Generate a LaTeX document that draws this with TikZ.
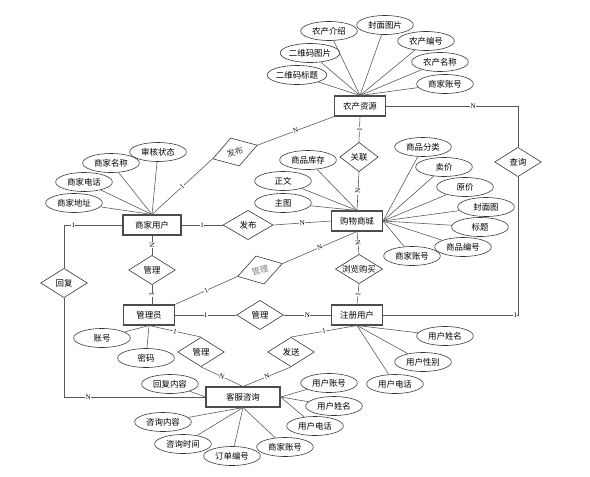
\documentclass[tikz,border=0pt]{standalone}
\usepackage{fontspec}
\setmainfont{Noto Sans CJK SC}
\newfontfamily\cardfont{Liberation Serif}
\usepackage{tikz}
\usetikzlibrary{shapes.geometric, positioning}

\tikzset{
  entity/.style={rectangle, draw=black!70, line width=0.9pt, minimum width=1.53cm, minimum height=0.6cm, inner sep=1pt, fill=white, font=\fontsize{7.2}{8}\selectfont},
  attr/.style={ellipse, draw=black!80, line width=0.5pt, minimum width=1.7cm, minimum height=0.57cm, inner sep=0pt, fill=white, font=\fontsize{7.2}{8}\selectfont},
  rel/.style={diamond, draw=black!80, line width=0.5pt, aspect=1.75, minimum width=1.4cm, minimum height=0.88cm, inner sep=0pt, fill=white, font=\fontsize{7.2}{8}\selectfont},
  card/.style={font=\cardfont\fontsize{6}{6}\selectfont, fill=white, inner sep=0.3pt, sloped},
  link/.style={draw=black!65, line width=0.5pt},
}

\begin{document}
\begin{tikzpicture}[x=0.03cm, y=-0.03cm]
  \useasboundingbox (0,0) rectangle (590,476);

  \node[entity] (nzzy) at (360,106) {农产资源};
  \node[entity, minimum width=1.74cm] (sjyh) at (152,225) {商家用户};
  \node[entity] (gwsc) at (357,221) {购物商城};
  \node[entity] (gly) at (149,315) {管理员};
  \node[entity] (zcyh) at (357,315) {注册用户};
  \node[entity, minimum width=2.22cm] (kfzx) at (243,397) {客服咨询};

  \node[rel, rotate=17, text=black!75] (fb1) at (235,152) {发布};
  \node[rel, minimum width=1.15cm] (gl1) at (359,157) {关联};
  \node[rel, minimum width=1.5cm] (fb2) at (248,225) {发布};
  \node[rel] (gl2) at (152,270) {管理};
  \node[rel, rotate=16, text=gray] (gl3) at (260,270) {管理};
  \node[rel] (llgm) at (359,269) {浏览购买};
  \node[rel] (gl4) at (260,315) {管理};
  \node[rel] (gl5) at (201,352) {管理};
  \node[rel] (fs) at (291,352) {发送};
  \node[rel] (cx) at (518,162) {查询};
  \node[rel] (hf) at (64,283) {回复};

  \node[attr] (nzjs) at (329,31) {农产介绍};
  \node[attr] (fmtp) at (385,25) {封面图片};
  \node[attr] (nzbh) at (426,41) {农产编号};
  \node[attr] (nzmc) at (440,62) {农产名称};
  \node[attr] (nzsj) at (445,84) {商家账号};
  \node[attr] (ewtp) at (310,53) {二维码图片};
  \node[attr] (ewbt) at (297,75) {二维码标题};

  \node[attr] (shzt) at (158,152) {审核状态};
  \node[attr] (sjmc) at (111,163) {商家名称};
  \node[attr] (sjdh) at (84,182) {商家电话};
  \node[attr] (sjdz) at (74,203) {商家地址};

  \node[attr] (spkc) at (308,160) {商品库存};
  \node[attr] (zw) at (283,181) {正文};
  \node[attr] (zt) at (283,203) {主图};
  \node[attr] (spfl) at (423,147) {商品分类};
  \node[attr] (mj) at (444,167) {卖价};
  \node[attr] (yj) at (465,187) {原价};
  \node[attr] (fmt) at (486,207) {封面图};
  \node[attr] (bt) at (480,227) {标题};
  \node[attr] (spbh) at (463,247) {商品编号};
  \node[attr] (gwsj) at (412,256) {商家账号};

  \node[attr] (zh) at (102,338) {账号};
  \node[attr] (mm) at (146,358) {密码};

  \node[attr] (yhxm) at (445,336) {用户姓名};
  \node[attr] (yhxb) at (423,362) {用户性别};
  \node[attr] (yhdh) at (395,384) {用户电话};

  \node[attr] (hfnr) at (170,384) {回复内容};
  \node[attr] (kfzh) at (329,383) {用户账号};
  \node[attr] (kfxm) at (334,406) {用户姓名};
  \node[attr] (kfdh) at (315,426) {用户电话};
  \node[attr] (zxnr) at (163,422) {咨询内容};
  \node[attr] (zxsj) at (183,444) {咨询时间};
  \node[attr] (ddbh) at (232,456) {订单编号};
  \node[attr] (kfsj) at (285,447) {商家账号};

  \draw[link] (nzzy.north) -- (nzjs);
  \draw[link] (nzzy.north) -- (fmtp);
  \draw[link] (nzzy.north) -- (nzbh);
  \draw[link] (nzzy.north) -- (nzmc);
  \draw[link] (nzzy.north) -- (nzsj);
  \draw[link] (nzzy.north) -- (ewtp);
  \draw[link] (nzzy.north) -- (ewbt);

  \draw[link] (sjyh.north) -- (shzt);
  \draw[link] (sjyh.north) -- (sjmc);
  \draw[link] (sjyh.north) -- (sjdh);
  \draw[link] (sjyh.north) -- (sjdz);

  \draw[link] (gwsc.north) -- (spkc);
  \draw[link] (gwsc.north) -- (zw);
  \draw[link] (gwsc.north) -- (zt);
  \draw[link] (gwsc.east) -- (spfl);
  \draw[link] (gwsc.east) -- (mj);
  \draw[link] (gwsc.east) -- (yj);
  \draw[link] (gwsc.east) -- (fmt);
  \draw[link] (gwsc.east) -- (bt);
  \draw[link] (gwsc.east) -- (spbh);
  \draw[link] (gwsc.east) -- (gwsj);

  \draw[link] (gly.south) -- (zh);
  \draw[link] (gly.south) -- (mm);

  \draw[link] (zcyh.south) -- (yhxm);
  \draw[link] (zcyh.south) -- (yhxb);
  \draw[link] (zcyh.south) -- (yhdh);

  \draw[link] (kfzx.west) -- (hfnr);
  \draw[link] (kfzx.east) -- (kfzh);
  \draw[link] (kfzx.east) -- (kfxm);
  \draw[link] (kfzx.east) -- (kfdh);
  \draw[link] (kfzx.south) -- (zxnr);
  \draw[link] (kfzx.south) -- (zxsj);
  \draw[link] (kfzx.south) -- (ddbh);
  \draw[link] (kfzx.south) -- (kfsj);

  \draw[link] (sjyh.north) -- node[card]{1} (fb1.west);
  \draw[link] (fb1.east) -- node[card]{N} (nzzy.south west);
  \draw[link] (nzzy.south) -- node[card]{1} (gl1.north);
  \draw[link] (gl1.south) -- node[card]{N} (gwsc.north);
  \draw[link] (sjyh.east) -- node[card]{1} (fb2.west);
  \draw[link] (fb2.east) -- node[card]{N} (gwsc.west);
  \draw[link] (sjyh.south) -- node[card]{N} (gl2.north);
  \draw[link] (gl2.south) -- node[card]{1} (gl2.south |- gly.north);
  \draw[link] (gly.north east) -- node[card]{1} (gl3.west);
  \draw[link] (gl3.east) -- node[card]{N} (gwsc.south);
  \draw[link] (gwsc.south) -- node[card]{N} (llgm.north);
  \draw[link] (llgm.south) -- node[card]{1} (zcyh.north);
  \draw[link] (gly.east) -- node[card]{1} (gl4.west);
  \draw[link] (gl4.east) -- node[card]{N} (zcyh.west);
  \draw[link] (gly.south) -- node[card]{1} (gl5.north);
  \draw[link] (gl5.south) -- node[card]{N} (kfzx.north);
  \draw[link] (zcyh.south) -- node[card]{1} (fs.north);
  \draw[link] (fs.south) -- node[card]{N} (kfzx.north);
  \draw[link] (nzzy.east) -| node[card, pos=0.33]{N} (cx.north);
  \draw[link] (cx.south) |- node[card, pos=0.51]{1} (zcyh.east);
  \draw[link] (sjyh.west) -| node[card, pos=0.42]{1} (hf.north);
  \draw[link] (hf.south) |- node[card, pos=0.585]{N} (kfzx.west);
\end{tikzpicture}
\end{document}
